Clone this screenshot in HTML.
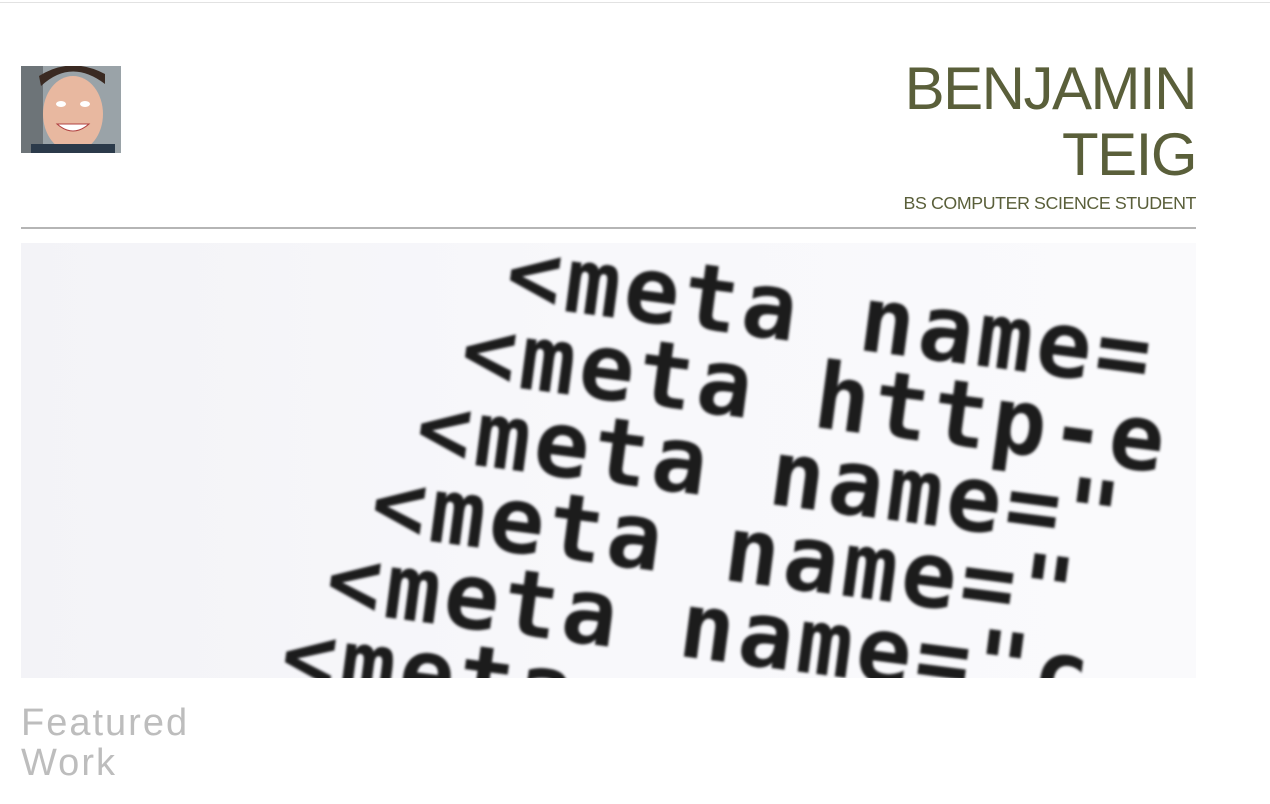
<!DOCTYPE html>
<html><head><meta charset="utf-8">
<style>
html,body{margin:0;padding:0;background:#fff;width:1270px;height:804px;overflow:hidden;font-family:"Liberation Sans",sans-serif;}
.topline{position:absolute;left:0;top:2px;width:1270px;height:1px;background:#e2e2e2;}
.photo{position:absolute;left:21px;top:66px;width:100px;height:87px;overflow:hidden;background:#8a8f93;}
.name{position:absolute;right:74px;top:56px;text-align:right;color:#5a5f3a;font-size:60px;line-height:66px;letter-spacing:-1.5px;}
.sub{position:absolute;right:74px;top:193px;color:#5a5f3a;font-size:17.8px;letter-spacing:-0.4px;}
.rule{position:absolute;left:21px;top:227px;width:1175px;height:2px;background:#b5b5b5;}
.hero{position:absolute;left:21px;top:243px;width:1175px;height:435px;overflow:hidden;}
.feat{position:absolute;left:21px;top:703px;color:#bdbdbd;font-size:38px;line-height:40px;letter-spacing:2px;}
</style></head><body>
<div class="topline"></div>
<div class="photo">
<svg width="100" height="87" viewBox="0 0 100 87">
<rect width="100" height="87" fill="#9aa3a8"/>
<rect x="0" y="0" width="22" height="87" fill="#6d7478"/>
<ellipse cx="52" cy="48" rx="30" ry="38" fill="#e8b8a0"/>
<path d="M20 20 Q50 -8 84 18 L84 8 Q50 -10 18 10Z" fill="#3a2a22"/>
<ellipse cx="40" cy="38" rx="5" ry="3" fill="#fff"/><ellipse cx="64" cy="38" rx="5" ry="3" fill="#fff"/>
<path d="M36 58 Q52 72 68 58 Z" fill="#fff" stroke="#b04040"/>
<rect x="10" y="78" width="84" height="10" fill="#2b3a4a"/>
</svg></div>
<div class="name">BENJAMIN<br>TEIG</div>
<div class="sub">BS COMPUTER SCIENCE STUDENT</div>
<div class="rule"></div>
<div class="hero">
<svg width="1175" height="435" viewBox="0 0 1175 435">
<defs>
<linearGradient id="g" x1="0" y1="0" x2="1" y2="0"><stop offset="0" stop-color="#f3f3f7"/><stop offset="0.5" stop-color="#f8f8fb"/><stop offset="1" stop-color="#fafafc"/></linearGradient>
<filter id="b"><feGaussianBlur stdDeviation="1.3"/></filter>
</defs>
<rect width="1175" height="435" fill="url(#g)"/>
<g font-family="DejaVu Sans Mono,monospace" font-weight="bold" fill="#1a1a1e" font-size="92" letter-spacing="4" filter="url(#b)">
<text transform="translate(482,60) rotate(7.5)">&lt;meta name=</text>
<text transform="translate(437,137) rotate(7.5)">&lt;meta http-e</text>
<text transform="translate(392,214) rotate(7.5)">&lt;meta name="</text>
<text transform="translate(347,290) rotate(7.5)">&lt;meta name="</text>
<text transform="translate(302,366) rotate(7.5)">&lt;meta name="c</text>
<text transform="translate(257,442) rotate(7.5)">&lt;meta name=</text>
</g>
</svg></div>
<div class="feat">Featured<br>Work</div>
</body></html>
